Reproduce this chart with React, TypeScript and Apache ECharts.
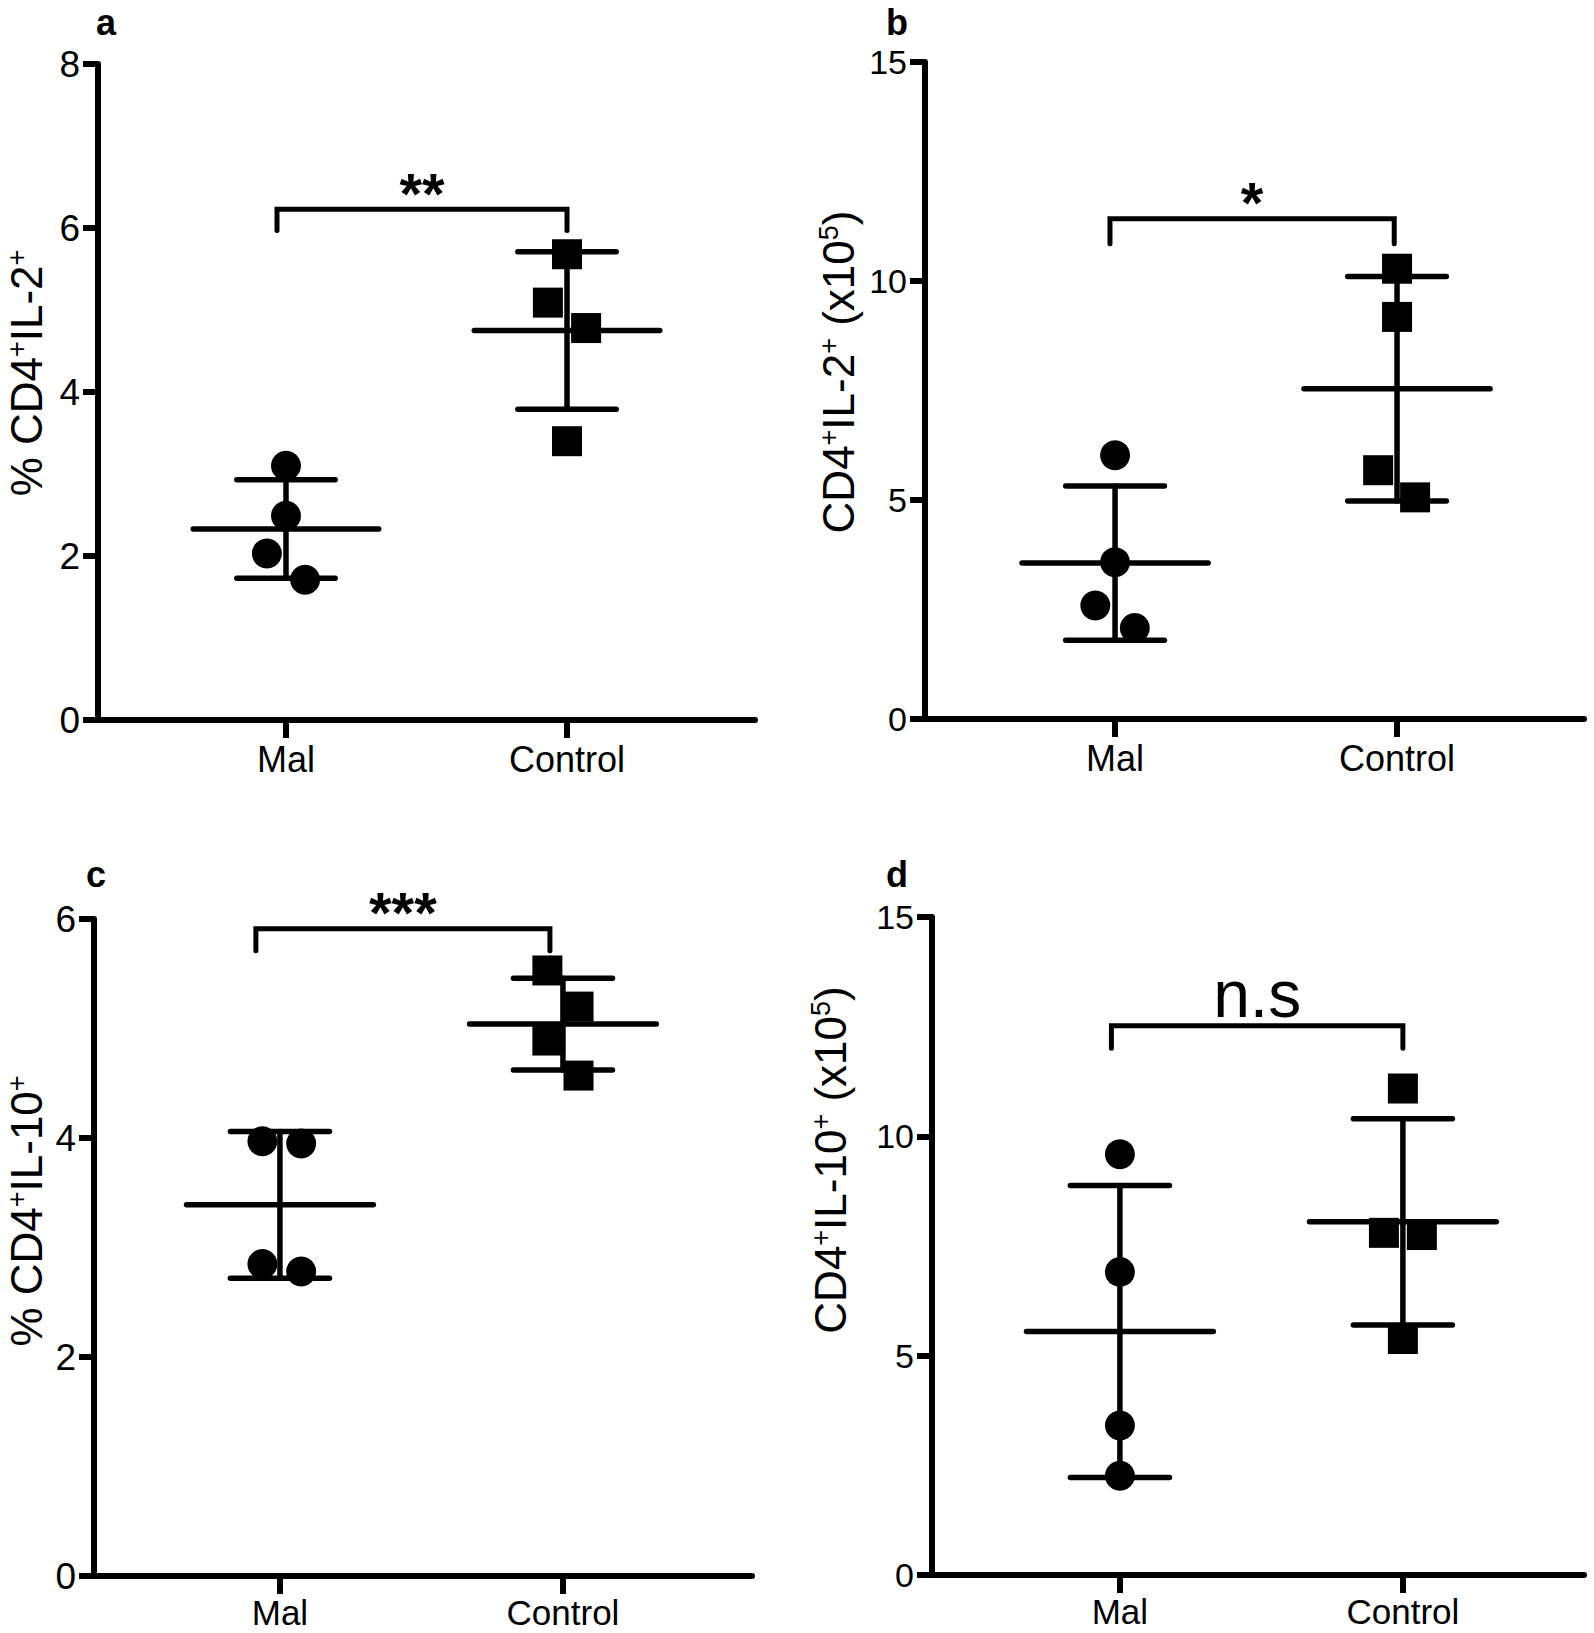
import React, { useEffect, useRef } from "react";
import * as echarts from "echarts";

// ---------- data ----------
const categories = ["Mal", "Control"];
const panelLetters = ["a", "b", "c", "d"];

// a: % CD4+IL-2+
const aMalValues = [3.1, 2.49, 2.03, 1.71];
const aControlValues = [5.68, 5.09, 4.78, 3.4];
const aMeans = [2.33, 4.75];
const aSDs = [0.6, 0.96];

// b: CD4+IL-2+ (x10^5)
const bMalValues = [6.02, 3.58, 2.59, 2.08];
const bControlValues = [10.28, 9.18, 5.68, 5.06];
const bMeans = [3.56, 7.54];
const bSDs = [1.76, 2.56];

// c: % CD4+IL-10+
const cMalValues = [3.97, 3.95, 2.85, 2.78];
const cControlValues = [5.53, 5.2, 4.89, 4.57];
const cMeans = [3.39, 5.04];
const cSDs = [0.67, 0.42];

// d: CD4+IL-10+ (x10^5)
const dMalValues = [9.59, 6.91, 3.41, 2.26];
const dControlValues = [11.09, 7.8, 7.75, 5.38];
const dMeans = [5.55, 8.05];
const dSDs = [3.33, 2.35];

// horizontal scatter of the points inside a group (in category units)
const aMalJitter = [0, 0, -0.068, 0.068];
const aControlJitter = [0, -0.068, 0.068, 0];
const bMalJitter = [0, 0, -0.07, 0.07];
const bControlJitter = [0, 0, -0.067, 0.064];
const cMalJitter = [-0.062, 0.075, -0.062, 0.075];
const cControlJitter = [-0.055, 0.055, -0.055, 0.055];
const dMalJitter = [0, 0, 0, 0];
const dControlJitter = [0, -0.067, 0.067, 0];

const sigLabels = ["**", "*", "***", "n.s"];
const bracketTops = [6.23, 11.42, 5.91, 12.52];
const bracketLegs = [5.97, 10.85, 5.71, 12.01];

const yMaxes = [8, 15, 6, 15];
const yIntervals = [2, 5, 2, 5];

// ---------- layout / style ----------
const FONT = '"Liberation Sans", Arial, Helvetica, sans-serif';
const BLACK = "#000";

const panels = [
  {
    mal: aMalValues, ctrl: aControlValues, means: aMeans, sds: aSDs,
    malJ: aMalJitter, ctrlJ: aControlJitter,
    grid: { left: 98, top: 64, width: 657, height: 656 },
    xRange: [0.331, 2.669], legX: [0.968, 2.0],
    tickFont: 37, catFont: 36, catMargin: 24,
    title: [{ t: "% CD4", s: false }, { t: "+", s: true }, { t: "IL-2", s: false }, { t: "+", s: true }],
    titlePos: [26, 373],
    letterPos: [106, 22],
  },
  {
    mal: bMalValues, ctrl: bControlValues, means: bMeans, sds: bSDs,
    malJ: bMalJitter, ctrlJ: bControlJitter,
    grid: { left: 925, top: 62, width: 659, height: 657 },
    xRange: [0.326, 2.663], legX: [0.982, 1.99],
    tickFont: 34, catFont: 36, catMargin: 24,
    title: [{ t: "CD4", s: false }, { t: "+", s: true }, { t: "IL-2", s: false }, { t: "+", s: true }, { t: " (x10", s: false }, { t: "5", s: true }, { t: ")", s: false }],
    titlePos: [838, 372],
    letterPos: [897, 22],
  },
  {
    mal: cMalValues, ctrl: cControlValues, means: cMeans, sds: cSDs,
    malJ: cMalJitter, ctrlJ: cControlJitter,
    grid: { left: 94, top: 919, width: 658, height: 657 },
    xRange: [0.343, 2.668], legX: [0.915, 1.954],
    tickFont: 37, catFont: 35, catMargin: 21,
    title: [{ t: "% CD4", s: false }, { t: "+", s: true }, { t: "IL-10", s: false }, { t: "+", s: true }],
    titlePos: [26, 1211],
    letterPos: [96, 874],
  },
  {
    mal: dMalValues, ctrl: dControlValues, means: dMeans, sds: dSDs,
    malJ: dMalJitter, ctrlJ: dControlJitter,
    grid: { left: 932, top: 917, width: 652, height: 658 },
    xRange: [0.336, 2.64], legX: [0.97, 2.0],
    tickFont: 34, catFont: 35, catMargin: 21,
    title: [{ t: "CD4", s: false }, { t: "+", s: true }, { t: "IL-10", s: false }, { t: "+", s: true }, { t: " (x10", s: false }, { t: "5", s: true }, { t: ")", s: false }],
    titlePos: [830, 1160],
    letterPos: [897, 874],
  },
];

const MEAN_HALF = 0.33;
const CAP_HALF = 0.175;
const LINE_W = 5.5;
const AXIS_W = 6;

function errorBarItem(params: any, api: any) {
  const x = api.value(0);
  const m = api.value(1);
  const sd = api.value(2);
  const c = api.coord([x, m]);
  const hi = api.coord([x, m + sd]);
  const lo = api.coord([x, m - sd]);
  const mL = api.coord([x - MEAN_HALF, m]);
  const mR = api.coord([x + MEAN_HALF, m]);
  const cL = api.coord([x - CAP_HALF, m]);
  const cR = api.coord([x + CAP_HALF, m]);
  const style = { stroke: BLACK, lineWidth: LINE_W, lineCap: "round" };
  return {
    type: "group",
    children: [
      { type: "line", shape: { x1: mL[0], y1: c[1], x2: mR[0], y2: c[1] }, style },
      { type: "line", shape: { x1: c[0], y1: hi[1], x2: c[0], y2: lo[1] }, style },
      { type: "line", shape: { x1: cL[0], y1: hi[1], x2: cR[0], y2: hi[1] }, style },
      { type: "line", shape: { x1: cL[0], y1: lo[1], x2: cR[0], y2: lo[1] }, style },
    ],
  };
}

function makeBracketItem(label: string) {
  const isStars = label.indexOf("*") >= 0;
  return (params: any, api: any) => {
    const xl = api.value(0);
    const xr = api.value(1);
    const top = api.value(2);
    const leg = api.value(3);
    const p1 = api.coord([xl, leg]);
    const p2 = api.coord([xl, top]);
    const p3 = api.coord([xr, top]);
    const p4 = api.coord([xr, leg]);
    return {
      type: "group",
      children: [
        {
          type: "polyline",
          shape: { points: [p1, p2, p3, p4] },
          style: { stroke: BLACK, lineWidth: 5, fill: "none", lineCap: "round", lineJoin: "miter" },
        },
        {
          type: "text",
          x: (p2[0] + p3[0]) / 2,
          y: p2[1] - (isStars ? 16 : 32),
          style: {
            text: label,
            fill: BLACK,
            font: isStars ? `bold 58px ${FONT}` : `66px ${FONT}`,
            align: "center",
            verticalAlign: "middle",
          },
        },
      ],
    };
  };
}

function richTitle(parts: { t: string; s: boolean }[]) {
  return parts.map((p) => `{${p.s ? "s" : "n"}|${p.t}}`).join("");
}

export default function App() {
  const ref = useRef<HTMLDivElement>(null);

  useEffect(() => {
    document.body.style.margin = "0";
    if (!ref.current) return;
    const chart = echarts.init(ref.current, undefined, { renderer: "svg" });

    const grids: any[] = [];
    const xAxes: any[] = [];
    const yAxes: any[] = [];
    const series: any[] = [];
    const graphics: any[] = [];

    panels.forEach((p, i) => {
      grids.push({ ...p.grid, containLabel: false });
      xAxes.push({
        type: "value",
        gridIndex: i,
        min: p.xRange[0],
        max: p.xRange[1],
        splitLine: { show: false },
        axisLine: { show: true, onZero: false, lineStyle: { color: BLACK, width: AXIS_W } },
        axisTick: { show: true, length: 18, customValues: [1, 2], lineStyle: { color: BLACK, width: AXIS_W } },
        axisLabel: {
          show: true,
          customValues: [1, 2],
          formatter: (v: number) => categories[Math.round(v) - 1] ?? "",
          color: BLACK,
          fontSize: p.catFont,
          lineHeight: 30,
          fontFamily: FONT,
          margin: p.catMargin,
        },
      });
      yAxes.push({
        type: "value",
        gridIndex: i,
        min: 0,
        max: yMaxes[i],
        interval: yIntervals[i],
        splitLine: { show: false },
        axisLine: { show: true, onZero: false, lineStyle: { color: BLACK, width: AXIS_W } },
        axisTick: { show: true, length: 15, lineStyle: { color: BLACK, width: AXIS_W } },
        axisLabel: { color: BLACK, fontSize: p.tickFont, fontFamily: FONT, margin: 18 },
      });

      series.push({
        type: "custom",
        xAxisIndex: i,
        yAxisIndex: i,
        renderItem: errorBarItem,
        encode: { x: 0, y: 1 },
        data: p.means.map((m, k) => [k + 1, m, p.sds[k]]),
        z: 3,
        silent: true,
      });
      series.push({
        type: "scatter",
        xAxisIndex: i,
        yAxisIndex: i,
        symbol: "circle",
        symbolSize: 30,
        itemStyle: { color: BLACK, opacity: 1 },
        data: p.mal.map((v, k) => [1 + p.malJ[k], v]),
        z: 2,
        silent: true,
      });
      series.push({
        type: "scatter",
        xAxisIndex: i,
        yAxisIndex: i,
        symbol: "rect",
        symbolSize: 30,
        itemStyle: { color: BLACK, opacity: 1 },
        data: p.ctrl.map((v, k) => [2 + p.ctrlJ[k], v]),
        z: 2,
        silent: true,
      });
      series.push({
        type: "custom",
        xAxisIndex: i,
        yAxisIndex: i,
        renderItem: makeBracketItem(sigLabels[i]),
        encode: { x: [0, 1], y: [2, 3] },
        data: [[p.legX[0], p.legX[1], bracketTops[i], bracketLegs[i]]],
        z: 3,
        silent: true,
      });

      graphics.push({
        type: "text",
        x: p.letterPos[0],
        y: p.letterPos[1],
        style: {
          text: panelLetters[i],
          fill: BLACK,
          font: `bold 36px ${FONT}`,
          align: "center",
          verticalAlign: "middle",
        },
      });
      graphics.push({
        type: "text",
        x: p.titlePos[0],
        y: p.titlePos[1],
        rotation: Math.PI / 2,
        style: {
          text: richTitle(p.title),
          fill: BLACK,
          align: "center",
          verticalAlign: "middle",
          rich: {
            n: { fontSize: 44, fontFamily: FONT, fill: BLACK, lineHeight: 46, verticalAlign: "middle" },
            s: { fontSize: 27, fontFamily: FONT, fill: BLACK, lineHeight: 46, verticalAlign: "top" },
          },
        },
      });
    });

    chart.setOption({
      animation: false,
      backgroundColor: "#fff",
      grid: grids,
      xAxis: xAxes,
      yAxis: yAxes,
      series,
      graphic: graphics,
    });

    return () => chart.dispose();
  }, []);

  return <div ref={ref} style={{ width: 1594, height: 1633 }} />;
}
